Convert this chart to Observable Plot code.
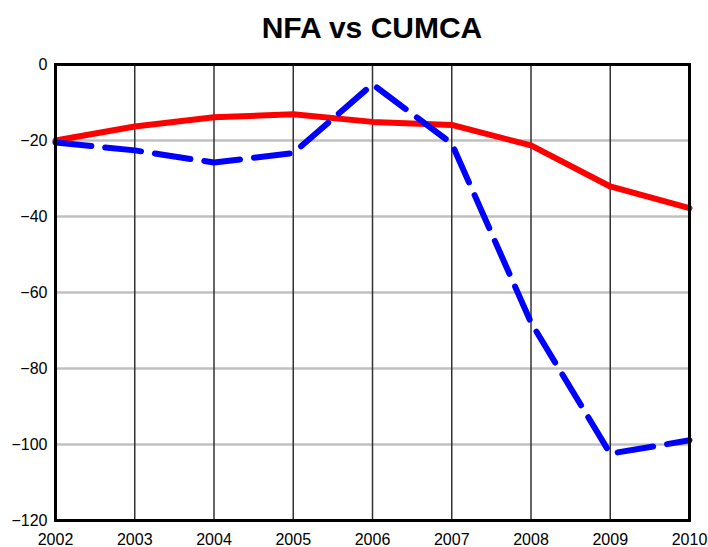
<!DOCTYPE html>
<html>
<head>
<meta charset="utf-8">
<script src="https://cdn.jsdelivr.net/npm/d3@7"></script>
<script src="https://cdn.jsdelivr.net/npm/@observablehq/plot@0.6"></script>
<style>
  body { margin: 0; background: #fff; font-family: "Liberation Sans", Arial, sans-serif; }
  #title { height: 50px; width: 708px; box-sizing: border-box; padding-left: 36px; text-align: center; font-weight: bold; font-size: 30px; line-height: 56px; color: #000; }
</style>
</head>
<body>
<div id="title">NFA vs CUMCA</div>
<div id="chart"></div>
<script>
const years = [2002, 2003, 2004, 2005, 2006, 2007, 2008, 2009, 2010];
const nfa = [-20, -16.3, -13.9, -13.1, -15.1, -15.9, -21.3, -32.1, -37.8];
const cumca = [-20.5, -22.6, -25.8, -23.3, -5.2, -20.8, -67.9, -102.4, -98.9];
const yTicks = [0, -20, -40, -60, -80, -100, -120];

const nfaData = years.map((y, i) => ({year: y, value: nfa[i]}));
const cumcaData = years.map((y, i) => ({year: y, value: cumca[i]}));

const chart = Plot.plot({
  width: 708,
  height: 497,
  marginTop: 14,
  marginBottom: 27,
  marginLeft: 55,
  marginRight: 19,
  style: {fontFamily: "'Liberation Sans', Arial, sans-serif", fontSize: "15px", color: "#000", background: "#fff"},
  x: {domain: [2002, 2010], ticks: years, tickFormat: d3.format("d"), label: null},
  y: {domain: [-120, 0], ticks: yTicks, label: null},
  marks: [
    Plot.gridY(yTicks, {stroke: "#c0c0c0", strokeOpacity: 1, strokeWidth: 2.5}),
    Plot.gridX(years, {stroke: "#333", strokeOpacity: 1, strokeWidth: 1.5}),
    Plot.axisX({ticks: years, tickFormat: d3.format("d"), tickSize: 0, tickPadding: 13, fontSize: 16}),
    Plot.axisY({ticks: yTicks, tickSize: 0, tickPadding: 8, fontSize: 16}),
    Plot.line(nfaData, {x: "year", y: "value", stroke: "#ff0000", strokeWidth: 6}),
    Plot.line(cumcaData, {x: "year", y: "value", stroke: "#0000ff", strokeWidth: 6, strokeDasharray: "36,14", strokeLinecap: "round"}),
    Plot.frame({stroke: "#000", strokeWidth: 3})
  ]
});
document.getElementById("chart").appendChild(chart);
</script>
</body>
</html>
